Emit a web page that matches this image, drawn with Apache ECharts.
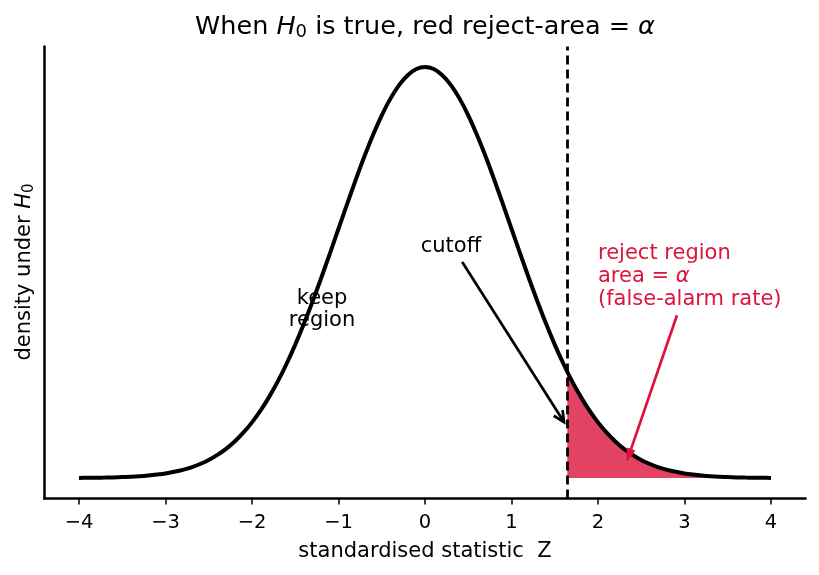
<!DOCTYPE html>
<html>
<head>
<meta charset="utf-8">
<script src="https://cdn.jsdelivr.net/npm/echarts@6/dist/echarts.min.js"></script>
<style>html,body{margin:0;padding:0;background:#fff;}#c{width:819px;height:575px;}</style>
</head>
<body>
<div id="c"></div>
<script>
// standardised statistic Z (x values of the curve)
const zValues = [-4.0,-3.9,-3.8,-3.7,-3.6,-3.5,-3.4,-3.3,-3.2,-3.1,-3.0,-2.9,-2.8,-2.7,-2.6,-2.5,-2.4,-2.3,-2.2,-2.1,-2.0,-1.9,-1.8,-1.7,-1.6,-1.5,-1.4,-1.3,-1.2,-1.1,-1.0,-0.9,-0.8,-0.7,-0.6,-0.5,-0.4,-0.3,-0.2,-0.1,0.0,0.1,0.2,0.3,0.4,0.5,0.6,0.7,0.8,0.9,1.0,1.1,1.2,1.3,1.4,1.5,1.6,1.7,1.8,1.9,2.0,2.1,2.2,2.3,2.4,2.5,2.6,2.7,2.8,2.9,3.0,3.1,3.2,3.3,3.4,3.5,3.6,3.7,3.8,3.9,4.0];
// density under H0
const density = [0.0001,0.0002,0.0003,0.0004,0.0006,0.0009,0.0012,0.0017,0.0024,0.0033,0.0044,0.0060,0.0079,0.0104,0.0136,0.0175,0.0224,0.0283,0.0355,0.0440,0.0540,0.0656,0.0790,0.0940,0.1109,0.1295,0.1497,0.1714,0.1942,0.2179,0.2420,0.2661,0.2897,0.3123,0.3332,0.3521,0.3683,0.3814,0.3910,0.3970,0.3989,0.3970,0.3910,0.3814,0.3683,0.3521,0.3332,0.3123,0.2897,0.2661,0.2420,0.2179,0.1942,0.1714,0.1497,0.1295,0.1109,0.0940,0.0790,0.0656,0.0540,0.0440,0.0355,0.0283,0.0224,0.0175,0.0136,0.0104,0.0079,0.0060,0.0044,0.0033,0.0024,0.0017,0.0012,0.0009,0.0006,0.0004,0.0003,0.0002,0.0001];
// reject region (right tail from the cutoff)
const cutoff = 1.645;
const rejectZ = [1.645,1.7,1.8,1.9,2.0,2.1,2.2,2.3,2.4,2.5,2.6,2.7,2.8,2.9,3.0,3.1,3.2,3.3,3.4,3.5,3.6,3.7,3.8,3.9,4.0];
const rejectDensity = [0.1031,0.0940,0.0790,0.0656,0.0540,0.0440,0.0355,0.0283,0.0224,0.0175,0.0136,0.0104,0.0079,0.0060,0.0044,0.0033,0.0024,0.0017,0.0012,0.0009,0.0006,0.0004,0.0003,0.0002,0.0001];
// tick labels
const xTicks = [-4,-3,-2,-1,0,1,2,3,4];
// annotation anchor points (data coords)
const cutoffText = [0.30, 0.225];
const cutoffArrow = [[0.43, 0.2096], [1.607, 0.0543]];
const keepText = [-1.19, 0.164];
const rejectText = [2.0, 0.196];
const rejectArrow = [[2.913, 0.158], [2.335, 0.0165]];

const FONT = 'DejaVu Sans';
const RED = '#DC143C';

const chart = echarts.init(document.getElementById('c'), null, {renderer: 'canvas'});

const option = {
  animation: false,
  backgroundColor: '#fff',
  grid: {left: 44.4, right: 13.4, top: 46.4, bottom: 76.4, containLabel: false},
  xAxis: {
    type: 'value', min: -4.4, max: 4.4,
    axisLine: {show: true, onZero: false, lineStyle: {color: '#000', width: 2.5}},
    axisTick: {show: true, customValues: xTicks, length: 6, lineStyle: {color: '#000', width: 1.5}},
    axisLabel: {show: true, customValues: xTicks, color: '#000', fontFamily: FONT, fontSize: 19.5, margin: 14,
      formatter: v => String(v).replace('-', '\u2212')},
    splitLine: {show: false}
  },
  yAxis: {
    type: 'value', min: -0.02, max: 0.419,
    axisLine: {show: true, onZero: false, lineStyle: {color: '#000', width: 2.5}},
    axisTick: {show: false}, axisLabel: {show: false}, splitLine: {show: false}
  },
  series: [
    {
      type: 'line', data: rejectZ.map((z, i) => [z, rejectDensity[i]]),
      showSymbol: false, smooth: 0.3, z: 1,
      lineStyle: {color: RED, width: 1, opacity: 0.8},
      areaStyle: {color: RED, opacity: 0.8}
    },
    {
      type: 'line', data: zValues.map((z, i) => [z, density[i]]),
      showSymbol: false, smooth: 0.3, z: 3,
      lineStyle: {color: '#000', width: 4},
      markLine: {
        silent: true, symbol: 'none', label: {show: false},
        lineStyle: {color: '#000', width: 2.8, type: [9, 5]},
        data: [{xAxis: cutoff}]
      }
    }
  ]
};
chart.setOption(option);

function px(p) { return chart.convertToPixel({gridIndex: 0}, p); }

function arrow(from, to, color, filled) {
  const a = px(from), b = px(to);
  const ang = Math.atan2(b[1] - a[1], b[0] - a[0]);
  const L = filled ? 13 : 12, W = filled ? 0.32 : 0.45;
  const p1 = [b[0] - L * Math.cos(ang - W), b[1] - L * Math.sin(ang - W)];
  const p2 = [b[0] - L * Math.cos(ang + W), b[1] - L * Math.sin(ang + W)];
  const els = [];
  const end = filled ? [b[0] - L * 0.8 * Math.cos(ang), b[1] - L * 0.8 * Math.sin(ang)] : b;
  els.push({type: 'line', shape: {x1: a[0], y1: a[1], x2: end[0], y2: end[1]}, style: {stroke: color, lineWidth: 2.7}, z: 10});
  if (filled) {
    els.push({type: 'polygon', shape: {points: [b, p1, p2]}, style: {fill: color, stroke: color, lineWidth: 1}, z: 10});
  } else {
    els.push({type: 'polyline', shape: {points: [p1, b, p2]}, style: {stroke: color, lineWidth: 2.7, fill: null}, z: 10});
  }
  return els;
}

const ct = px(cutoffText), kt = px(keepText), rt = px(rejectText);
const graphics = [
  {type: 'text', x: 425, y: 27, z: 20, style: {
    text: 'When {i|H}{sub|0} is true, red reject-area = {i|\u03b1}',
    font: '25.5px "DejaVu Sans"', fill: '#000', align: 'center', verticalAlign: 'middle',
    rich: {i: {fontFamily: FONT, fontSize: 25.5, fontStyle: 'italic', fill: '#000'}, sub: {fontFamily: FONT, fontSize: 18, fill: '#000', padding: [11, 0, 0, 0]}}
  }},
  {type: 'text', x: 25, y: 272, rotation: Math.PI / 2, z: 20, style: {
    text: 'density under {i|H}{sub|0}',
    font: '21px "DejaVu Sans"', fill: '#000', align: 'center', verticalAlign: 'middle',
    rich: {i: {fontFamily: FONT, fontSize: 21, fontStyle: 'italic', fill: '#000'}, sub: {fontFamily: FONT, fontSize: 15, fill: '#000', padding: [9, 0, 0, 0]}}
  }},
  {type: 'text', x: 425, y: 552, z: 20, style: {
    text: 'standardised statistic  Z', font: '21px "DejaVu Sans"', fill: '#000', align: 'center', verticalAlign: 'middle'
  }},
  {type: 'text', x: ct[0], y: ct[1], z: 20, style: {
    text: 'cutoff', font: '21px "DejaVu Sans"', fill: '#000', align: 'center', verticalAlign: 'middle'
  }},
  {type: 'text', x: kt[0], y: kt[1], z: 20, style: {
    text: 'keep\nregion', font: '21px "DejaVu Sans"', fill: '#000', align: 'center', verticalAlign: 'middle', lineHeight: 22
  }},
  {type: 'text', x: rt[0], y: rt[1], z: 20, style: {
    text: 'reject region\narea = {i|\u03b1}\n(false-alarm rate)', font: '21px "DejaVu Sans"', fill: RED, align: 'left', verticalAlign: 'middle', lineHeight: 23,
    rich: {i: {fontFamily: FONT, fontSize: 21, fontStyle: 'italic', fill: RED, lineHeight: 23}}
  }}
].concat(arrow(cutoffArrow[0], cutoffArrow[1], '#000', false))
 .concat(arrow(rejectArrow[0], rejectArrow[1], RED, true));

chart.setOption({graphic: graphics});
</script>
</body>
</html>
